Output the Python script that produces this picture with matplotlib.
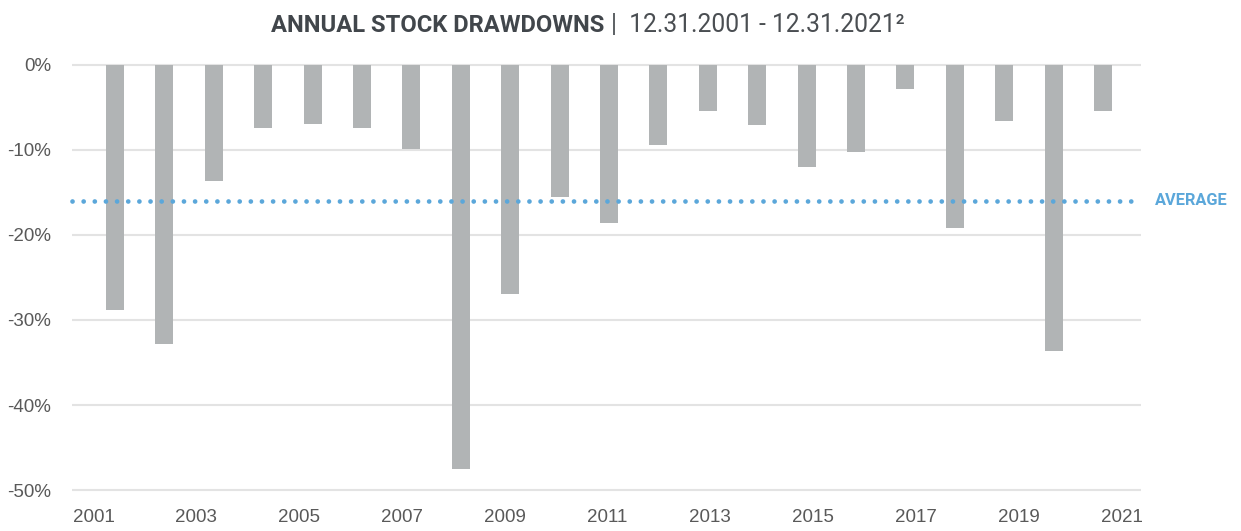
import matplotlib
matplotlib.use("Agg")
import matplotlib.pyplot as plt
from matplotlib.ticker import FuncFormatter

# values (percent)
years = list(range(2001, 2022))
drawdowns = [-28.8, -32.8, -13.7, -7.4, -7.0, -7.4, -9.9, -47.5, -27.0, -15.6,
             -18.6, -9.4, -5.5, -7.1, -12.0, -10.3, -2.9, -19.2, -6.6, -33.6, -5.5]
average = -16.0
label_years = list(range(2001, 2022, 2))
y_ticks = [0, -10, -20, -30, -40, -50]

W, H = 1241, 531
NARROW = ['Roboto', 'DejaVu Sans']
REGULAR = ['Liberation Sans', 'DejaVu Sans']


def fit_width(txt, target_px, renderer):
    # shrink/grow a text so it spans about target_px pixels
    w = txt.get_window_extent(renderer).width
    txt.set_fontsize(txt.get_fontsize() * target_px / w)


fig = plt.figure(figsize=(W / 100, H / 100), dpi=100)
ax = fig.add_axes([72 / W, 1 - 492 / H, 1069 / W, (492 - 62.8) / H])

ax.bar(years, drawdowns, width=0.364, color='#B1B4B5', zorder=2)
ax.axhline(average, color='#5BA7DA', lw=3.4, linestyle=(0, (0.01, 2.35)),
           dash_capstyle='round', zorder=3, clip_on=False)
avg_txt = ax.text((1155 - 72) / 1069, average, 'AVERAGE', transform=ax.get_yaxis_transform(),
                  ha='left', va='center', color='#5BA7DA', fontsize=14, fontweight='bold',
                  family=NARROW)

ax.set_xlim(2000.13, 2021.77)
ax.set_ylim(-50.2, 0.2)
ax.set_yticks(y_ticks)
ax.yaxis.set_major_formatter(FuncFormatter(lambda v, p: '%d%%' % v))
ax.grid(axis='y', color='#E3E3E3', lw=1.5, zorder=0)
ax.set_axisbelow(True)

# year labels in the reference are spread a bit wider than the bars
stretch = 51.4 / 49.4
shift = (93.5 - 115) / 49.4
ax.set_xticks([2001 + (y - 2001) * stretch + shift for y in label_years])
ax.set_xticklabels([str(y) for y in label_years])

for s in ax.spines.values():
    s.set_visible(False)
ax.tick_params(axis='both', length=0, labelsize=13.5, labelcolor='#595959')
ax.tick_params(axis='y', pad=15)
ax.tick_params(axis='x', pad=12)
for lab in ax.get_xticklabels() + ax.get_yticklabels():
    lab.set_family(REGULAR)

t1 = fig.text(604 / W, 1 - 32 / H, 'ANNUAL STOCK DRAWDOWNS', ha='right', va='baseline',
              fontsize=18, fontweight='bold', color='#41464B', family=NARROW)
t2 = fig.text(611 / W, 1 - 32 / H, '|  12.31.2001 - 12.31.2021\u00b2', ha='left', va='baseline',
              fontsize=17.5, color='#4A4E52', family=NARROW)

r = fig.canvas.get_renderer()
fit_width(t1, 335, r)
fit_width(t2, 294, r)
fit_width(avg_txt, 73, r)

fig.savefig('out.png', dpi=100)
